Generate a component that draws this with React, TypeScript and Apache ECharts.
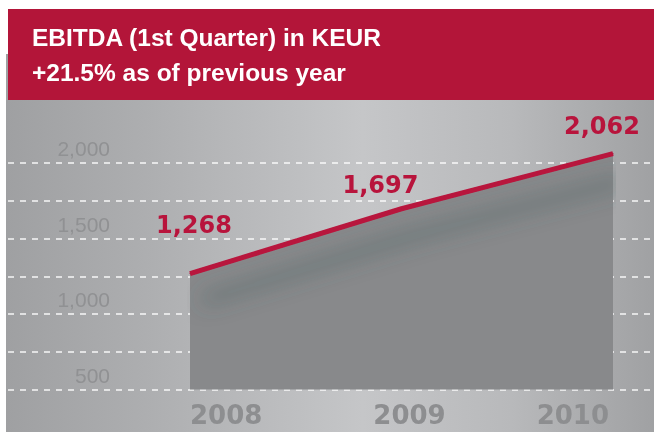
import React, { useEffect, useRef } from 'react';
import * as echarts from 'echarts';

const titleLines = ['EBITDA (1st Quarter) in KEUR', '+21.5% as of previous year'];
const years = ['2008', '2009', '2010'];
const ebitda = [1268, 1697, 2062];
const yAxisLabelValues = [500, 1000, 1500, 2000];

const RED = '#b31539';
const LINE_RED = '#b8143c';

export default function App() {
  const ref = useRef<HTMLDivElement>(null);
  useEffect(() => {
    const chart = echarts.init(ref.current!, null, { renderer: 'svg' });
    const fmt = (v: number) => v.toLocaleString('en-US');
    const labelOffsets = [[4, -31], [-21, -6], [-11, -10]];
    const option: any = {
      animation: false,
      graphic: [
        { type: 'rect', shape: { x: 8, y: 9, width: 646, height: 91 }, style: { fill: RED } },
        {
          type: 'text', x: 32, y: 37,
          style: { text: titleLines[0], fill: '#ffffff', font: 'bold 24.5px "Liberation Sans", Arial, sans-serif', verticalAlign: 'middle' },
        },
        {
          type: 'text', x: 32, y: 72,
          style: { text: titleLines[1], fill: '#ffffff', font: 'bold 24.5px "Liberation Sans", Arial, sans-serif', verticalAlign: 'middle' },
        },
      ],
      grid: [
        { left: 8, right: 0, top: 125.25, bottom: 42.5 },
        { left: 190, right: 41, top: 125.25, bottom: 42.5 },
      ],
      xAxis: [
        { gridIndex: 0, type: 'category', show: false, data: [''] },
        {
          gridIndex: 1,
          type: 'category',
          boundaryGap: false,
          data: years.map((y, i) => ({
            value: y,
            textStyle:
              i === 0
                ? { align: 'left' }
                : i === years.length - 1
                ? { align: 'right', padding: [0, 4, 0, 0] }
                : { align: 'center', padding: [0, 0, 0, 16] },
          })),
          axisLine: { show: false },
          axisTick: { show: false },
          axisLabel: {
            color: '#8d8e90',
            fontFamily: '"DejaVu Sans", sans-serif',
            fontWeight: 'bold',
            fontSize: 26,
            margin: 12,
          },
        },
      ],
      yAxis: [
        {
          gridIndex: 0,
          type: 'value',
          min: 500,
          max: 2250,
          interval: 250,
          axisLine: { show: false },
          axisTick: { show: false },
          splitLine: {
            show: true,
            showMaxLine: false,
            lineStyle: { color: 'rgba(255,255,255,0.9)', type: [6, 6], width: 1.5 },
          },
          axisLabel: {
            inside: true,
            margin: 102,
            align: 'right',
            verticalAlign: 'bottom',
            padding: [0, 0, 4, 0],
            color: '#909193',
            fontSize: 21,
            fontFamily: '"Liberation Sans", Arial, sans-serif',
            formatter: (v: number) => (yAxisLabelValues.includes(v) ? fmt(v) : ''),
          },
        },
        { gridIndex: 1, type: 'value', min: 500, max: 2250, interval: 250, show: false },
      ],
      series: [
        {
          type: 'line',
          xAxisIndex: 1,
          yAxisIndex: 1,
          data: ebitda.map((v, i) => ({ value: v, label: { offset: labelOffsets[i] } })),
          symbol: 'circle',
          symbolSize: 1,
          itemStyle: { color: LINE_RED },
          lineStyle: {
            color: LINE_RED,
            width: 5,
            shadowColor: 'rgba(60,88,88,1)',
            shadowBlur: 22,
            shadowOffsetX: 12,
            shadowOffsetY: 27,
          },
          areaStyle: { color: '#88898b', opacity: 1, origin: 'start' },
          label: {
            show: true,
            position: 'top',
            formatter: (p: any) => fmt(p.value),
            color: LINE_RED,
            fontFamily: '"DejaVu Sans", sans-serif',
            fontWeight: 'bold',
            fontSize: 24,
          },
        },
      ],
    };
    chart.setOption(option);
    return () => chart.dispose();
  }, []);
  return (
    <div>
      <div
        style={{
          position: 'fixed', left: 6, top: 54, width: 648, height: 378,
          background: 'linear-gradient(to right, #9fa0a2 0%, #acadaf 20%, #c5c6c8 55%, #b8b9bb 78%, #a0a1a3 100%)',
        }}
      />
      <div ref={ref} style={{ position: 'fixed', left: 0, top: 0, width: 654, height: 432 }} />
    </div>
  );
}
